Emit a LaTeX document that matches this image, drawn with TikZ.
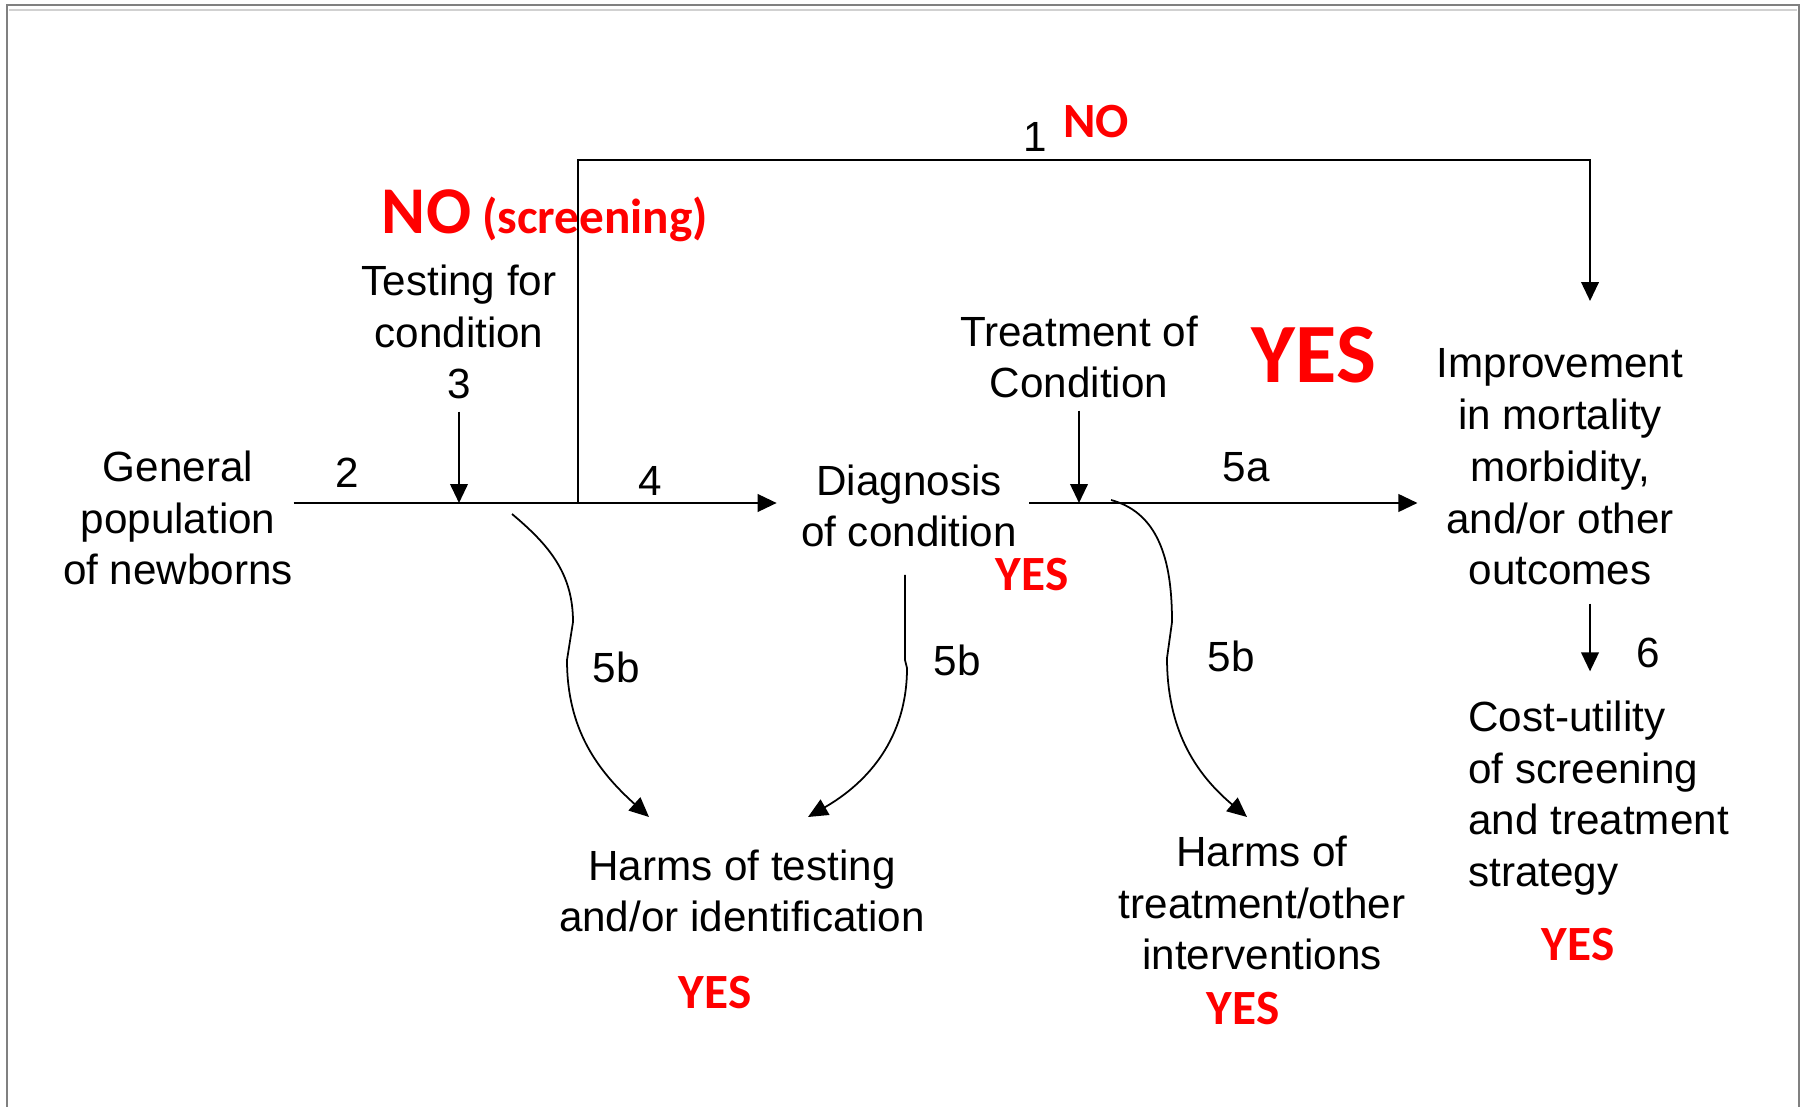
\documentclass[tikz,border=0pt]{standalone}
\usepackage{fontspec}
\setmainfont{Liberation Sans}
\newfontfamily\calibri{Carlito}
\usetikzlibrary{arrows.meta}

\begin{document}
\begin{tikzpicture}[x=0.01cm,y=0.01cm,
					every node/.style={font=\fontsize{12}{14.7}\selectfont},
					box/.style={align=center},
					verdict/.style={text=red,inner sep=0pt,anchor=base,
						font=\calibri\bfseries\fontsize{14}{16}\selectfont},
					link/.style={line width=0.6pt},
					arr/.style={link,-{Triangle[length=5.4pt,width=5pt]}},
					harm/.style={line width=0.5pt,-{Triangle[length=5.6pt,width=5pt]}},
					frame/.style={line width=0.6pt,draw=black!50}]
					\useasboundingbox (0,0) rectangle (1804,-1107);
					\draw[frame] (7,-1107) |- (1799,-5) -- (1799,-1107);
					\draw[black!18,line width=0.8pt] (9,-10) -- (1797,-10);
					\node[box,inner xsep=0pt] (general) at (178,-518) {General\\population\\of newborns};
					\node[box] (testing) at (459,-332) {Testing for\\condition\\3};
					\node[box] (diagnosis) at (909,-506) {Diagnosis\\of condition};
					\node[box] (treatment) at (1079,-357) {Treatment of\\Condition};
					\node[box] (improvement) at (1560,-467) {Improvement\\in mortality\\morbidity,\\and/or other\\outcomes};
					\node[align=left,anchor=west] (costutility) at (1456,-798) {Cost-utility\\of screening\\and treatment\\strategy};
					\node[box] (harmstest) at (742,-891) {Harms of testing\\and/or identification};
					\node[box] (harmstreat) at (1262,-903) {Harms of\\treatment/other\\interventions};
					\node (l1) at (1035,-137) {1};
					\node (l2) at (347,-473) {2};
					\node (l4) at (650,-481) {4};
					\node (l5a) at (1246,-467) {5a};
					\node (l5b1) at (616,-667) {5b};
					\node (l5b2) at (957,-660) {5b};
					\node (l5b3) at (1231,-656) {5b};
					\node (l6) at (1648,-653) {6};
					\node[verdict] (no1) at (1096,-138) {NO};
					\node[verdict] (noscreen) at (545,-234) {{\fontsize{19}{22}\selectfont NO} (screening)};
					\node[verdict,font=\calibri\bfseries\fontsize{24}{28}\selectfont] (yesbig) at (1314,-383) {YES};
					\node[verdict] (yesdiag) at (1032,-591) {YES};
					\node[verdict] (yestest) at (715,-1008) {YES};
					\node[verdict] (yestreat) at (1243,-1024) {YES};
					\node[verdict] (yescost) at (1578,-960) {YES};
					\coordinate (j) at (578,-503);
					\coordinate (corner) at (1590,-160);
					\coordinate (impin) at (1590,-301);
					\draw[link] (general.east |- j) -- (j);
					\draw[arr,shorten >=0.12cm] (j) -- (diagnosis.west |- j);
					\draw[arr] (testing.south) -- (testing.south |- j);
					\draw[arr] (j) |- (corner) -- (impin);
					\draw[arr,shorten >=0.07cm] (diagnosis.east |- j) -- (improvement.west |- j);
					\draw[arr] (treatment.south) -- (treatment.south |- j);
					\draw[arr,shorten <=0.06cm,shorten >=0.17cm] (corner |- improvement.south) -- (corner |- costutility.north);
					\coordinate (a0) at (512,-514);
					\coordinate (a1) at (649,-817);
					\coordinate (b0) at (905,-575);
					\coordinate (b1) at (808,-817);
					\coordinate (c0) at (1111,-500);
					\coordinate (c1) at (1247,-817);
					\draw[harm] (a0) to[out=-40,in=90] (573,-622) -- (567,-660) to[out=-90,in=138] (a1);
					\draw[harm] (b0) -- (905,-660) -- (907,-668) to[out=-90,in=30] (b1);
					\draw[harm] (c0) to[out=-15,in=90] (1172,-622) -- (1167,-658) to[out=-90,in=140] (c1);
\end{tikzpicture}
\end{document}
